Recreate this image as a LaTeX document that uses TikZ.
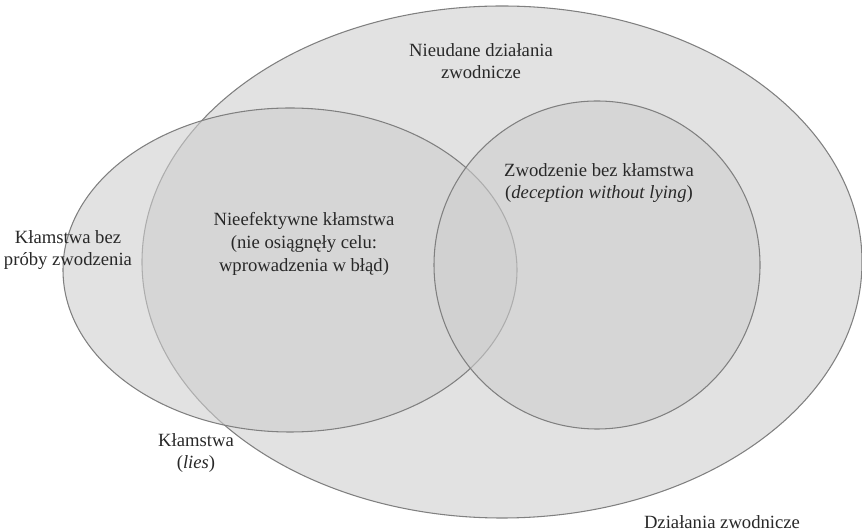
\documentclass[tikz,border=0pt]{standalone}
\usepackage{fontspec}
\setmainfont{Liberation Serif}
\usepackage{tikz}
\usetikzlibrary{positioning}
\definecolor{vennFill}{RGB}{206,206,206}
\definecolor{vennLine}{RGB}{128,128,128}
\definecolor{vennText}{RGB}{40,40,40}

\begin{document}
\begin{tikzpicture}[x=0.75pt,y=0.75pt,
    venn/.style={fill=vennFill, fill opacity=0.586, draw=vennLine, line width=0.8pt},
    lbl/.style={text=vennText, align=center, inner sep=0pt, font=\fontsize{14}{17}\selectfont}]
    \useasboundingbox (0,0) rectangle (862,531);

    % sets
    \draw[venn] (502,269) ellipse [x radius=360, y radius=256];
    \draw[venn] (290,261) ellipse [x radius=227, y radius=162];
    \draw[venn] (597,266) ellipse [x radius=163, y radius=164];

    % labels
    \node[lbl] (nieudane) at (481,470) {Nieudane działania\\zwodnicze};
    \node[lbl] (zwodzenie) at (599,348) {Zwodzenie bez kłamstwa\\(\textit{deception without lying})};
    \node[lbl] (nieefektywne) at (304,287) {Nieefektywne kłamstwa\\(nie osiągnęły celu:\\wprowadzenia w błąd)};
    \node[lbl] (bezproby) at (68,281) {Kłamstwa bez\\próby zwodzenia};
    \node[lbl] (klamstwa) at (196,78) {Kłamstwa\\(\textit{lies})};
    \node[lbl] (dzialania) at (722,9) {Działania zwodnicze};
\end{tikzpicture}
\end{document}
